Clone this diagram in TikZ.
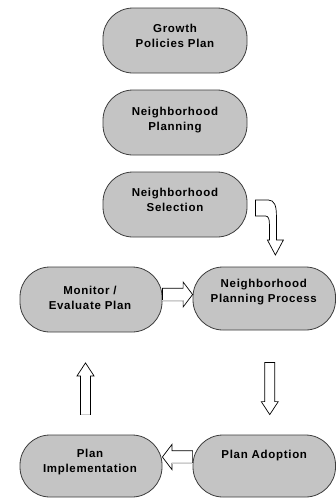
\documentclass[tikz,border=0pt]{standalone}
\usepackage{fontspec}
\setmainfont{Liberation Sans}[LetterSpace=6]
\usetikzlibrary{calc}
\definecolor{boxfill}{RGB}{196,196,196}
\definecolor{boxline}{RGB}{60,60,60}
\definecolor{edgegray}{RGB}{205,205,205}
\tikzset{
  stage/.style={rectangle, rounded corners=30pt, draw=boxline, line width=0.8pt,
    fill=boxfill, minimum width=144pt, minimum height=65pt, inner sep=0pt},
  lbl/.style={anchor=base, align=center, inner sep=0pt,
    font=\fontsize{11.5}{15}\selectfont\bfseries},
  blockarrow/.style={draw=black, fill=white, line width=0.7pt, line join=miter},
  softedge/.style={draw=edgegray, line width=0.8pt}
}
\newcommand\harrow[2]{%
  \draw[blockarrow] let \p1=(#1), \p2=(#2), \n1={ifthenelse(\x2>\x1,1,-1)} in
    (\x1,{\y1+6.2pt}) -- ({\x2-\n1*9.5pt},{\y1+6.2pt}) -- ({\x2-\n1*9.5pt},{\y1+12.5pt})
    -- (\x2,\y1) -- ({\x2-\n1*9.5pt},{\y1-12.5pt}) -- ({\x2-\n1*9.5pt},{\y1-6.2pt})
    -- (\x1,{\y1-6.2pt}) -- cycle;
  \draw[softedge] let \p1=(#1), \p2=(#2), \n1={ifthenelse(\x2>\x1,1,-1)} in
    ({\x1-\n1*0.4pt},{\y1-6.2pt}) -- ({\x2-\n1*9.5pt},{\y1-6.2pt});}
\newcommand\varrow[2]{%
  \draw[blockarrow] let \p1=(#1), \p2=(#2), \n1={ifthenelse(\y2>\y1,1,-1)} in
    ({\x1-5pt},\y1) -- ({\x1-5pt},{\y2-\n1*13pt}) -- ({\x1-8.5pt},{\y2-\n1*13pt})
    -- (\x1,\y2) -- ({\x1+8.5pt},{\y2-\n1*13pt}) -- ({\x1+5pt},{\y2-\n1*13pt})
    -- ({\x1+5pt},\y1) -- cycle;}
\begin{document}
\begin{tikzpicture}[x=1pt,y=-1pt]
\useasboundingbox (0,0) rectangle (336,498);
% stages
\node[stage] (gp)  at (175,40.5) {};
\node[stage] (np)  at (175,122.5) {};
\node[stage] (ns)  at (175,204.5) {};
\node[stage, minimum width=142pt] (mon) at (91,299.5) {};
\node[stage, minimum width=142.5pt, minimum height=63pt] (npp) at (264.25,298.5) {};
\node[stage, minimum width=142.5pt, minimum height=62pt] (pa)  at (264.25,466) {};
\node[stage, minimum width=142pt, minimum height=62pt] (pi)  at (91,466) {};
% labels (anchor base = baseline of the last line)
\node[lbl] (gpt)  at ($(gp)+(0,7.2)$)  {Growth\\Policies Plan};
\node[lbl] (npt)  at ($(np)+(0,7.5)$)  {Neighborhood\\Planning};
\node[lbl] (nst)  at ($(ns)+(0,7.2)$)  {Neighborhood\\Selection};
\node[lbl] (mont) at ($(mon)+(-1,9.5)$) {Monitor /\\Evaluate Plan};
\node[lbl] (nppt) at ($(npp)+(-0.5,3.6)$) {Neighborhood\\Planning Process};
\node[lbl] (pat)  at ($(pa)+(0,-7.7)$)  {Plan Adoption};
\node[lbl] (pit)  at ($(pi)+(-1,6)$)   {Plan\\Implementation};
% connectors
\coordinate (r1) at ($(mon.east)+(0,-5)$);
\coordinate (r2) at (npp.west |- r1);
\harrow{r1}{r2}
\coordinate (l1) at ($(pa.west)+(0,-9)$);
\coordinate (l2) at (pi.east |- l1);
\harrow{l1}{l2}
\coordinate (d1) at ($(npp.south)+(5.5,32)$);
\coordinate (d2) at ($(pa.north)+(5.5,-20)$);
\varrow{d1}{d2}
\coordinate (u1) at ($(pi.north)+(-5.5,-20)$);
\coordinate (u2) at ($(mon.south)+(-5.5,30.5)$);
\varrow{u1}{u2}
\draw[softedge] ($(u1)+(-4.6,0)$) -- ($(u1)+(4.6,0)$);
% bent arrow from selection towards planning process
\begin{scope}[shift={(ns.east)}]
\draw[blockarrow] (8,-4.5) -- (21,-4.5) .. controls (27,-4.5) and (29,1.5) .. (29,10.5)
  -- (29,35.5) -- (36,35.5) -- (28,50.5) -- (20,35.5) -- (22,35.5) -- (22,19.5)
  .. controls (22,14.5) and (21,11.5) .. (18,11.5) -- (8,11.5) -- cycle;
\end{scope}
\end{tikzpicture}
\end{document}
